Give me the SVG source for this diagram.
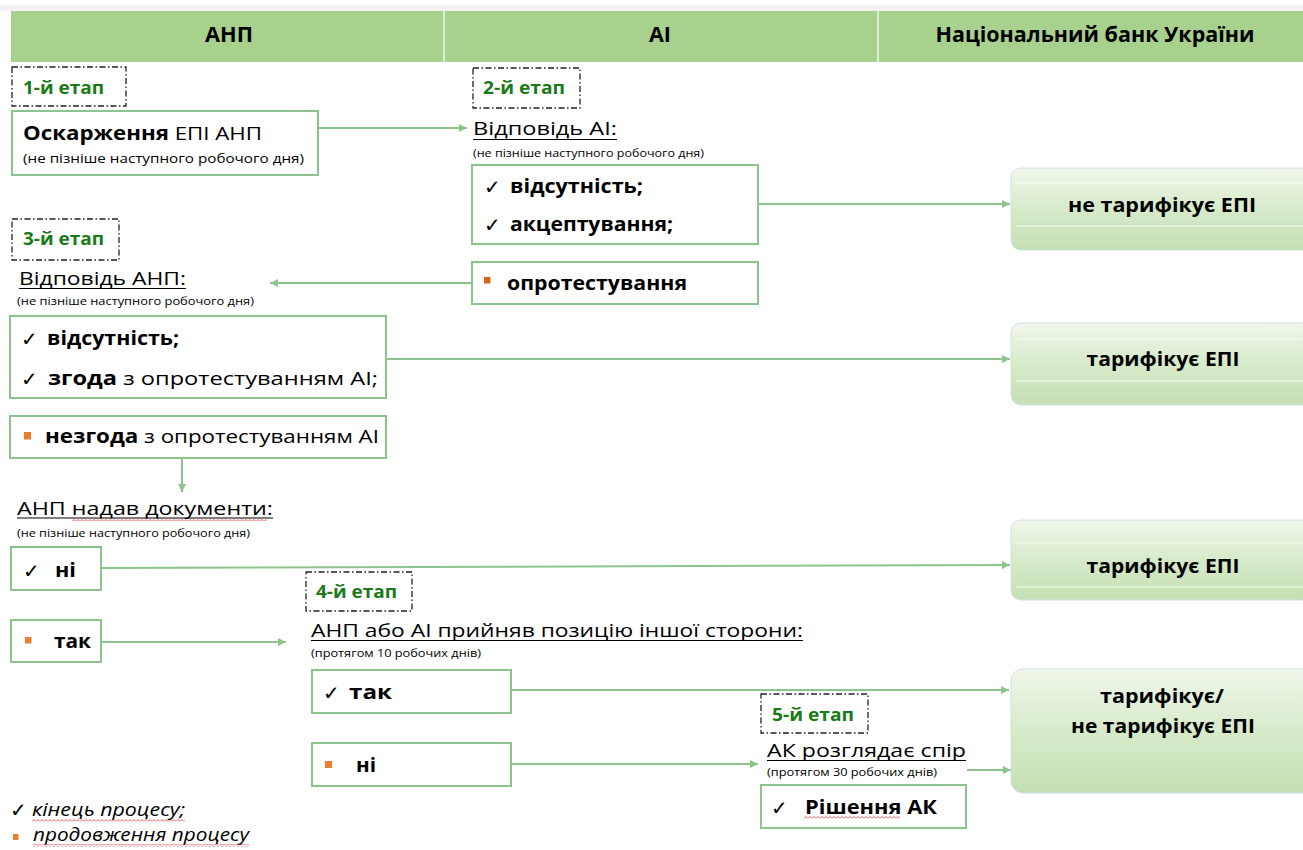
<svg xmlns="http://www.w3.org/2000/svg" width="1303" height="850" viewBox="0 0 1303 850">
<style>
text{font-family:"Open Sans","Liberation Sans",sans-serif;fill:#000}
.hd{font-size:21px;font-weight:bold}
.st{font-size:17px;font-weight:bold;fill:#1a7a1a}
.stage{fill:none;stroke:#222;stroke-width:1.3;stroke-dasharray:6 2.5 1.5 2.5}
.box{fill:#fff;stroke:#8dc48b;stroke-width:2}
.ttl{font-size:19px}
.sub{font-size:11px}
.b{font-size:19px;font-weight:bold}
.r{font-size:19px}
.ck{font-family:"DejaVu Sans",sans-serif;font-size:20px}
.ul{stroke:#000;stroke-width:1}
.bul{fill:#ed7d31}
.rb{fill:url(#rg);stroke:#cfe0e6;stroke-width:1}
.gl{stroke:#f4faef;stroke-width:1.2}
.rt{font-size:19px;font-weight:bold}
.conn{stroke:#8dc48b;stroke-width:2;fill:none;marker-end:url(#ah)}
.sq{fill:url(#wave)}
.lg{font-size:18px;font-style:italic}
</style>
<defs>
<marker id="ah" viewBox="0 0 10 10" refX="10" refY="5" markerWidth="10" markerHeight="8" markerUnits="userSpaceOnUse" orient="auto">
<path d="M0,0 L10,5 L0,10 z" fill="#8dc48b"/>
</marker>
<linearGradient id="rg" x1="0" y1="0" x2="0" y2="1">
<stop offset="0" stop-color="#f0f7eb"/>
<stop offset="0.5" stop-color="#d7eaca"/>
<stop offset="1" stop-color="#c4dfb2"/>
</linearGradient>
<pattern id="wave" width="4" height="3" patternUnits="userSpaceOnUse">
<path d="M0,2.5 L2,0.5 L4,2.5" fill="none" stroke="#e03030" stroke-width="0.8"/>
</pattern>
</defs>

<g id="header">
<rect x="0" y="5" width="1303" height="6" fill="#f2f2f2"/>
<rect x="11" y="11" width="1292" height="51" fill="#a9d18e"/>
<line x1="444" y1="11" x2="444" y2="62" stroke="#eef6e8" stroke-width="1.5"/>
<line x1="878" y1="11" x2="878" y2="62" stroke="#eef6e8" stroke-width="1.5"/>
<text class="hd" x="229" y="42" text-anchor="middle" textLength="48" lengthAdjust="spacingAndGlyphs">АНП</text>
<text class="hd" x="660" y="42" text-anchor="middle" textLength="22" lengthAdjust="spacingAndGlyphs">АІ</text>
<text class="hd" x="1095" y="42" text-anchor="middle" textLength="319" lengthAdjust="spacingAndGlyphs">Національний банк України</text>
</g>

<g id="connectors">
<line class="conn" x1="318" y1="128" x2="467" y2="128"/>
<line class="conn" x1="758" y1="204" x2="1010" y2="204"/>
<line class="conn" x1="472" y1="283" x2="270" y2="283"/>
<line class="conn" x1="386" y1="359" x2="1010" y2="359"/>
<line class="conn" x1="182" y1="458" x2="182" y2="492"/>
<line class="conn" x1="101" y1="568" x2="1010" y2="565"/>
<line class="conn" x1="101" y1="642" x2="286" y2="642"/>
<line class="conn" x1="511" y1="690" x2="1009" y2="690"/>
<line class="conn" x1="511" y1="764" x2="758" y2="764"/>
<line class="conn" x1="967" y1="770" x2="1011" y2="770"/>
</g>

<g id="stage1">
<rect class="stage" x="12" y="67" width="114" height="39"/>
<text class="st" x="23" y="94" textLength="81" lengthAdjust="spacingAndGlyphs">1-й етап</text>
</g>
<g id="box-oskarzhennia">
<rect class="box" x="12" y="111" width="306" height="64"/>
<text class="ttl" x="23" y="140" textLength="239" lengthAdjust="spacingAndGlyphs"><tspan font-weight="bold">Оскарження</tspan> ЕПІ АНП</text>
<text x="23" y="163" font-size="13" textLength="281" lengthAdjust="spacingAndGlyphs">(не пізніше наступного робочого дня)</text>
</g>

<g id="stage2">
<rect class="stage" x="473" y="68" width="107" height="40"/>
<text class="st" x="483" y="94" textLength="82" lengthAdjust="spacingAndGlyphs">2-й етап</text>
</g>
<g id="title-ai">
<text class="ttl" x="473" y="135" textLength="144" lengthAdjust="spacingAndGlyphs">Відповідь АІ:</text>
<line class="ul" x1="473" y1="139.5" x2="617" y2="139.5"/>
<text class="sub" x="473" y="157" textLength="231" lengthAdjust="spacingAndGlyphs">(не пізніше наступного робочого дня)</text>
</g>
<g id="box-ai-yes">
<rect class="box" x="472" y="165" width="286" height="79"/>
<text class="ck" x="484" y="194">✓</text>
<text class="b" x="510" y="193" textLength="133" lengthAdjust="spacingAndGlyphs">відсутність;</text>
<text class="ck" x="484" y="232">✓</text>
<text class="b" x="510" y="231" textLength="163" lengthAdjust="spacingAndGlyphs">акцептування;</text>
</g>
<g id="box-ai-protest">
<rect class="box" x="472" y="262" width="286" height="42"/>
<rect x="484" y="277" width="6.5" height="6.5" fill="#d4661c"/>
<text class="b" x="507" y="290" textLength="180" lengthAdjust="spacingAndGlyphs">опротестування</text>
</g>

<g id="stage3">
<rect class="stage" x="12" y="219" width="107" height="41"/>
<text class="st" x="23" y="245" textLength="81" lengthAdjust="spacingAndGlyphs">3-й етап</text>
</g>
<g id="title-anp">
<text class="ttl" x="19" y="285" textLength="167" lengthAdjust="spacingAndGlyphs">Відповідь АНП:</text>
<line class="ul" x1="19" y1="288.5" x2="186" y2="288.5"/>
<text class="sub" x="17" y="305" textLength="237" lengthAdjust="spacingAndGlyphs">(не пізніше наступного робочого дня)</text>
</g>
<g id="box-anp-yes">
<rect class="box" x="10" y="316" width="376" height="82"/>
<text class="ck" x="21" y="346">✓</text>
<text class="b" x="47" y="345" textLength="132" lengthAdjust="spacingAndGlyphs">відсутність;</text>
<text class="ck" x="21" y="386">✓</text>
<text class="r" x="48" y="385" textLength="330" lengthAdjust="spacingAndGlyphs"><tspan font-weight="bold">згода</tspan> з опротестуванням АІ;</text>
</g>
<g id="box-anp-no">
<rect class="box" x="10" y="416" width="376" height="42"/>
<rect class="bul" x="24" y="432" width="7" height="7.5"/>
<text class="r" x="45" y="443" textLength="334" lengthAdjust="spacingAndGlyphs"><tspan font-weight="bold">незгода</tspan> з опротестуванням АІ</text>
</g>

<g id="title-docs">
<text class="ttl" x="17" y="515" textLength="256" lengthAdjust="spacingAndGlyphs">АНП надав документи:</text>
<line class="ul" x1="17" y1="518" x2="273" y2="518"/>
<rect class="sq" x="72" y="518" width="195" height="3"/>
<text class="sub" x="17" y="537" textLength="233" lengthAdjust="spacingAndGlyphs">(не пізніше наступного робочого дня)</text>
</g>
<g id="box-docs-no">
<rect class="box" x="11" y="547" width="90" height="43"/>
<text class="ck" x="23" y="578">✓</text>
<text class="b" x="55" y="577" font-size="20" textLength="21" lengthAdjust="spacingAndGlyphs">ні</text>
</g>
<g id="box-docs-yes">
<rect class="box" x="11" y="620" width="90" height="42"/>
<rect class="bul" x="25" y="637" width="6.5" height="6.5"/>
<text class="b" x="54" y="648" font-size="20" textLength="37" lengthAdjust="spacingAndGlyphs">так</text>
</g>

<g id="stage4">
<rect class="stage" x="306" y="572" width="106" height="39"/>
<text class="st" x="316" y="598" textLength="81" lengthAdjust="spacingAndGlyphs">4-й етап</text>
</g>
<g id="title-accept">
<text class="ttl" x="311" y="637" textLength="492" lengthAdjust="spacingAndGlyphs">АНП або АІ прийняв позицію іншої сторони:</text>
<line class="ul" x1="311" y1="640.5" x2="803" y2="640.5"/>
<text class="sub" x="311" y="657" textLength="170" lengthAdjust="spacingAndGlyphs">(протягом 10 робочих днів)</text>
</g>
<g id="box-accept-yes">
<rect class="box" x="312" y="670" width="199" height="43"/>
<text class="ck" x="323" y="700">✓</text>
<text class="b" x="349" y="699" font-size="20" textLength="43" lengthAdjust="spacingAndGlyphs">так</text>
</g>
<g id="box-accept-no">
<rect class="box" x="312" y="743" width="199" height="43"/>
<rect class="bul" x="325" y="761" width="7" height="7"/>
<text class="b" x="356" y="772" font-size="20" textLength="20" lengthAdjust="spacingAndGlyphs">ні</text>
</g>

<g id="stage5">
<rect class="stage" x="761" y="694" width="107" height="39"/>
<text class="st" x="772" y="721" textLength="82" lengthAdjust="spacingAndGlyphs">5-й етап</text>
</g>
<g id="title-ak">
<text class="ttl" x="767" y="757" textLength="199" lengthAdjust="spacingAndGlyphs">АК розглядає спір</text>
<line class="ul" x1="767" y1="760.5" x2="966" y2="760.5"/>
<text class="sub" x="767" y="776" textLength="170" lengthAdjust="spacingAndGlyphs">(протягом 30 робочих днів)</text>
</g>
<g id="box-ak">
<rect class="box" x="761" y="785" width="205" height="43"/>
<text class="ck" x="771" y="815">✓</text>
<text class="b" x="805" y="814" textLength="132" lengthAdjust="spacingAndGlyphs">Рішення АК</text>
<rect class="sq" x="804" y="816" width="96" height="3"/>
</g>

<g id="nbu-1">
<rect class="rb" x="1011" y="168" width="320" height="82" rx="10"/>
<line class="gl" x1="1016" y1="183" x2="1303" y2="183"/>
<line class="gl" x1="1016" y1="226" x2="1303" y2="226"/>
<text class="rt" x="1162" y="212" text-anchor="middle" textLength="188" lengthAdjust="spacingAndGlyphs">не тарифікує ЕПІ</text>
</g>
<g id="nbu-2">
<rect class="rb" x="1011" y="323" width="320" height="82" rx="10"/>
<line class="gl" x1="1016" y1="339" x2="1303" y2="339"/>
<line class="gl" x1="1016" y1="381" x2="1303" y2="381"/>
<text class="rt" x="1163" y="366" text-anchor="middle" textLength="153" lengthAdjust="spacingAndGlyphs">тарифікує ЕПІ</text>
</g>
<g id="nbu-3">
<rect class="rb" x="1011" y="520" width="320" height="80" rx="10"/>
<line class="gl" x1="1016" y1="543" x2="1303" y2="543"/>
<line class="gl" x1="1016" y1="587" x2="1303" y2="587"/>
<text class="rt" x="1163" y="573" text-anchor="middle" textLength="153" lengthAdjust="spacingAndGlyphs">тарифікує ЕПІ</text>
</g>
<g id="nbu-4">
<rect class="rb" x="1011" y="669" width="320" height="124" rx="12"/>
<text class="rt" x="1162" y="703" text-anchor="middle" textLength="124" lengthAdjust="spacingAndGlyphs">тарифікує/</text>
<text class="rt" x="1163" y="733" text-anchor="middle" textLength="184" lengthAdjust="spacingAndGlyphs">не тарифікує ЕПІ</text>
</g>

<g id="legend">
<text class="ck" x="10" y="817">✓</text>
<text class="lg" x="32" y="816" textLength="153" lengthAdjust="spacingAndGlyphs">кінець процесу;</text>
<rect class="sq" x="32" y="819" width="153" height="3"/>
<rect class="bul" x="13" y="834" width="5.5" height="6"/>
<text class="lg" x="33" y="841" textLength="216" lengthAdjust="spacingAndGlyphs">продовження процесу</text>
<rect class="sq" x="33" y="844" width="216" height="3"/>
</g>
</svg>
